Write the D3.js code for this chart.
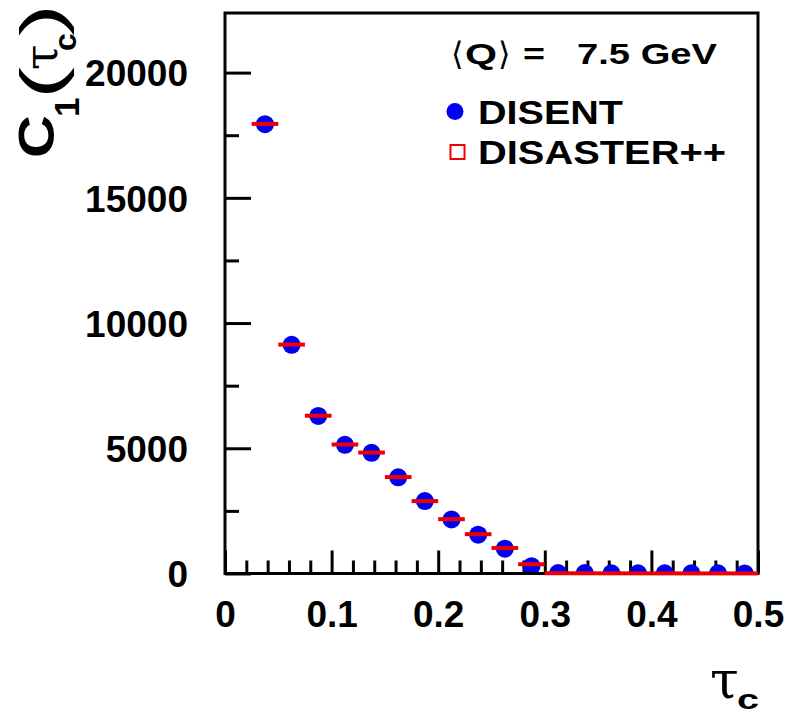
<!DOCTYPE html>
<html>
<head>
<meta charset="utf-8">
<script src="https://cdn.jsdelivr.net/npm/d3@7"></script>
<style>
  body { margin: 0; background: #fff; }
  svg { display: block; }
</style>
</head>
<body>
<div id="chart"></div>
<script>
// Bin centres in tau_c (bins of width 0.025 from 0.025 to 0.5)
const binCenters = [0.0375, 0.0625, 0.0875, 0.1125, 0.1375, 0.1625, 0.1875, 0.2125, 0.2375,
                    0.2625, 0.2875, 0.3125, 0.3375, 0.3625, 0.3875, 0.4125, 0.4375, 0.4625, 0.4875];
const binWidth = 0.025;
// C1(tau_c) from the two programs
const disent   = [17940, 9130, 6290, 5140, 4820, 3840, 2890, 2160, 1550, 990, 290, 20, 15, 10, 10, 8, 6, 5, 4];
const disaster = [17950, 9140, 6300, 5150, 4830, 3850, 2890, 2170, 1570, 1020, 370, 10, 8, 6, 5, 4, 3, 3, 2];

const xTicks = [0, 0.1, 0.2, 0.3, 0.4, 0.5];
const xTickLabels = ["0", "0.1", "0.2", "0.3", "0.4", "0.5"];
const xMinorTicks = d3.range(0.02, 0.5, 0.02);
const yTicks = [0, 5000, 10000, 15000, 20000];
const yTickLabels = ["0", "5000", "10000", "15000", "20000"];
const yMinorTicks = [2500, 7500, 12500, 17500];
const xDomain = [0, 0.5];
const yDomain = [0, 22380];

const W = 789, H = 717;
const frame = { left: 225, right: 758, top: 13, bottom: 573.5 };
const SANS = "'Liberation Sans', Arial, Helvetica, sans-serif";
const SERIF = "'DejaVu Serif', 'Liberation Serif', serif";

const x = d3.scaleLinear().domain(xDomain).range([frame.left, frame.right]);
const y = d3.scaleLinear().domain(yDomain).range([frame.bottom, frame.top]);

const svg = d3.select("#chart").append("svg")
  .attr("width", W).attr("height", H)
  .attr("viewBox", `0 0 ${W} ${H}`);
svg.append("rect").attr("width", W).attr("height", H).attr("fill", "#fff");

svg.append("defs").append("clipPath").attr("id", "plot-clip")
  .append("rect")
  .attr("x", frame.left).attr("y", frame.top)
  .attr("width", frame.right - frame.left)
  .attr("height", frame.bottom - 1.5 - frame.top);

// ---- axes (ticks point into the frame) ----
const fmtX = (d) => xTickLabels[xTicks.indexOf(d)];
const fmtY = (d) => yTickLabels[yTicks.indexOf(d)];

svg.append("g").attr("transform", `translate(0,${frame.bottom})`)
  .call(d3.axisBottom(x).tickValues(xTicks).tickFormat(fmtX).tickSize(-23).tickPadding(27));
svg.append("g").attr("transform", `translate(0,${frame.bottom})`)
  .call(d3.axisBottom(x).tickValues(xMinorTicks.filter(v => Math.abs(v * 10 - Math.round(v * 10)) > 1e-6))
        .tickFormat("").tickSize(-13));

const yAxis = svg.append("g").attr("transform", `translate(${frame.left},0)`)
  .call(d3.axisLeft(y).tickValues(yTicks).tickFormat(fmtY).tickSize(-26).tickPadding(37));
svg.append("g").attr("transform", `translate(${frame.left},0)`)
  .call(d3.axisLeft(y).tickValues(yMinorTicks).tickFormat("").tickSize(-14));

svg.selectAll(".domain").remove();
svg.selectAll(".tick line").attr("stroke", "#000").attr("stroke-width", 3);
svg.selectAll(".tick text")
  .attr("fill", "#000")
  .attr("font-family", SANS)
  .attr("font-weight", "bold")
  .attr("font-size", 37);
yAxis.selectAll(".tick text").attr("dy", "0.36em");

// frame
svg.append("rect")
  .attr("x", frame.left).attr("y", frame.top)
  .attr("width", frame.right - frame.left)
  .attr("height", frame.bottom - frame.top)
  .attr("fill", "none").attr("stroke", "#000").attr("stroke-width", 3);

// ---- DISENT: filled blue circles ----
svg.append("g").attr("clip-path", "url(#plot-clip)")
  .selectAll("circle").data(binCenters).join("circle")
  .attr("cx", d => x(d))
  .attr("cy", (d, i) => y(disent[i]))
  .attr("r", 9)
  .attr("fill", "#0000f0");

// ---- DISASTER++: bin-width bars ----
svg.append("g")
  .selectAll("line").data(binCenters).join("line")
  .attr("x1", d => x(d - binWidth / 2))
  .attr("x2", d => x(d + binWidth / 2))
  .attr("y1", (d, i) => y(disaster[i]))
  .attr("y2", (d, i) => y(disaster[i]))
  .attr("stroke", "#ee0000").attr("stroke-width", 4);

// ---- legend ----
const leg = svg.append("g");
leg.append("text").attr("x", 451).attr("y", 65)
  .attr("font-family", "'DejaVu Sans', sans-serif").attr("font-size", 32).text("\u27E8");
leg.append("text").attr("x", 465).attr("y", 64)
  .attr("font-family", SANS).attr("font-weight", "bold").attr("font-size", 30)
  .attr("textLength", 32).attr("lengthAdjust", "spacingAndGlyphs").text("Q");
leg.append("text").attr("x", 498).attr("y", 65)
  .attr("font-family", "'DejaVu Sans', sans-serif").attr("font-size", 32).text("\u27E9");
leg.append("text").attr("x", 523).attr("y", 64)
  .attr("font-family", SANS).attr("font-weight", "bold").attr("font-size", 30)
  .attr("textLength", 22).attr("lengthAdjust", "spacingAndGlyphs").text("=");
leg.append("text").attr("x", 577).attr("y", 64)
  .attr("font-family", SANS).attr("font-weight", "bold").attr("font-size", 30)
  .attr("textLength", 140).attr("lengthAdjust", "spacingAndGlyphs").text("7.5 GeV");

leg.append("circle").attr("cx", 455).attr("cy", 111.5).attr("r", 8.5).attr("fill", "#0000f0");
leg.append("text").attr("x", 478).attr("y", 124)
  .attr("font-family", SANS).attr("font-weight", "bold").attr("font-size", 33)
  .attr("textLength", 145).attr("lengthAdjust", "spacingAndGlyphs").text("DISENT");

leg.append("rect").attr("x", 450.5).attr("y", 145).attr("width", 14).attr("height", 14)
  .attr("fill", "none").attr("stroke", "#ee0000").attr("stroke-width", 2);
leg.append("text").attr("x", 478).attr("y", 164)
  .attr("font-family", SANS).attr("font-weight", "bold").attr("font-size", 33)
  .attr("textLength", 248).attr("lengthAdjust", "spacingAndGlyphs").text("DISASTER++");

// ---- y-axis title: C_1(tau_c), rotated ----
const yt = svg.append("g").attr("transform", "translate(54,155) rotate(-90)");
yt.append("text").attr("x", -3).attr("y", 0)
  .attr("font-family", SANS).attr("font-weight", "bold").attr("font-size", 50)
  .attr("textLength", 43).attr("lengthAdjust", "spacingAndGlyphs").text("C");
yt.append("text").attr("x", 38).attr("y", 25)
  .attr("font-family", SANS).attr("font-weight", "bold").attr("font-size", 35).text("1");
yt.append("text").attr("x", 56).attr("y", 8)
  .attr("font-family", SANS).attr("font-size", 60)
  .attr("textLength", 32).attr("lengthAdjust", "spacingAndGlyphs").text("(");
yt.append("text").attr("x", 85).attr("y", 3)
  .attr("font-family", SERIF).attr("font-size", 46).text("\u03C4");
yt.append("text").attr("x", 104).attr("y", 22)
  .attr("font-family", SANS).attr("font-weight", "bold").attr("font-size", 32).text("c");
yt.append("text").attr("x", 119).attr("y", 8)
  .attr("font-family", SANS).attr("font-size", 60)
  .attr("textLength", 32).attr("lengthAdjust", "spacingAndGlyphs").text(")");

// ---- x-axis title: tau_c ----
svg.append("text").attr("x", 710).attr("y", 698)
  .attr("font-family", SERIF).attr("font-size", 52).text("\u03C4");
svg.append("text").attr("x", 737).attr("y", 709)
  .attr("font-family", SANS).attr("font-weight", "bold").attr("font-size", 28)
  .attr("textLength", 22).attr("lengthAdjust", "spacingAndGlyphs").text("c");
</script>
</body>
</html>
